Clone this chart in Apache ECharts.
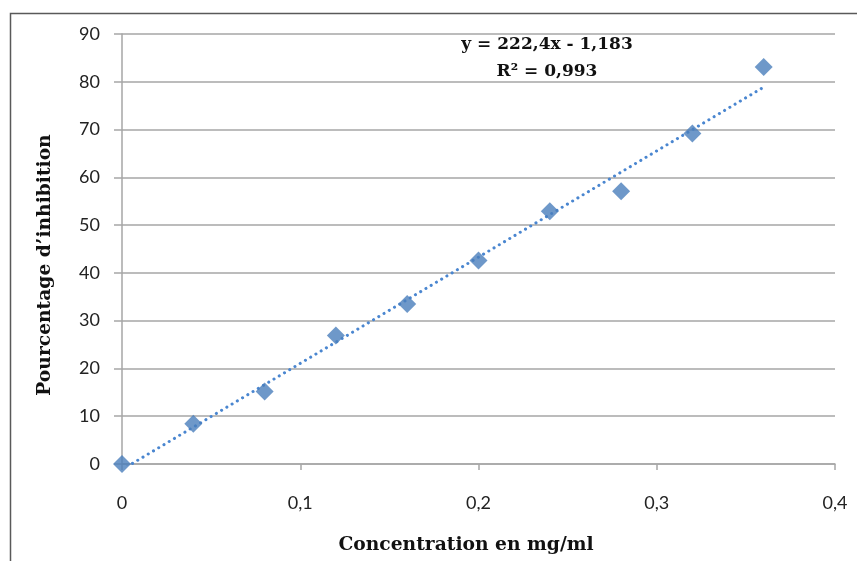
<!DOCTYPE html>
<html>
<head>
<meta charset="utf-8">
<script src="https://cdn.jsdelivr.net/npm/echarts@6/dist/echarts.min.js"></script>
<style>html,body{margin:0;padding:0;background:#fff}#c{width:857px;height:561px}</style>
</head>
<body>
<div id="c"></div>
<script>
var concentrations = [0, 0.04, 0.08, 0.12, 0.16, 0.20, 0.24, 0.28, 0.32, 0.36];
var inhibition = [0, 8.4, 15.2, 26.9, 33.5, 42.6, 52.9, 57.1, 69.2, 83.1];
var trendX = [0, 0.36];
var trendY = [-1.183, 78.881];
var equationText = 'y = 222,4x - 1,183';
var r2Text = 'R² = 0,993';
var xTitle = 'Concentration en mg/ml';
var yTitle = 'Pourcentage d\u2019inhibition';

var chart = echarts.init(document.getElementById('c'), null, {renderer: 'canvas'});
var pts = concentrations.map(function (x, i) { return [x, inhibition[i]]; });
var trend = trendX.map(function (x, i) { return [x, trendY[i]]; });
var blue = '#4a7ebb';
var tickFont = {fontFamily: 'Lato', fontSize: 18, color: '#222'};
var titleFontCss = 'bold 18.7px "DejaVu Serif"';

chart.setOption({
  animation: false,
  backgroundColor: '#fff',
  grid: {left: 122, right: 22, top: 34, bottom: 97},
  xAxis: {
    type: 'value', min: 0, max: 0.4, interval: 0.1,
    axisLine: {show: true, lineStyle: {color: '#a6a6a6', width: 1.5}},
    axisTick: {show: true, inside: false, length: 6, lineStyle: {color: '#a6a6a6', width: 1.5}},
    splitLine: {show: false},
    axisLabel: Object.assign({margin: 30, formatter: function (v) { return String(Math.round(v * 10) / 10).replace('.', ','); }}, tickFont)
  },
  yAxis: {
    type: 'value', min: 0, max: 90, interval: 10,
    axisLine: {show: true, lineStyle: {color: '#a6a6a6', width: 1.5}},
    axisTick: {show: true, length: 8, lineStyle: {color: '#a6a6a6', width: 1.5}},
    splitLine: {show: true, lineStyle: {color: '#a6a6a6', width: 1.5}},
    axisLabel: Object.assign({margin: 22}, tickFont)
  },
  series: [
    {
      type: 'line', data: trend, symbol: 'none', z: 2,
      lineStyle: {color: '#4a86d0', width: 3, type: [0.1, 6], cap: 'round'},
      silent: true
    },
    {
      type: 'scatter', data: pts, symbol: 'diamond', symbolSize: [18, 18], z: 3,
      itemStyle: {color: blue}
    }
  ],
  graphic: [
    {type: 'rect', left: 8, top: 11, shape: {width: 900, height: 600}, silent: true, z: -10,
     style: {fill: 'none', stroke: '#595959', lineWidth: 1.5}},
    {type: 'text', silent: true,
     style: {text: xTitle, x: 466, y: 545, textAlign: 'center', textVerticalAlign: 'middle', font: titleFontCss, fill: '#111'}},
    {type: 'text', silent: true, x: 45, y: 265, rotation: Math.PI / 2,
     style: {text: yTitle, x: 0, y: 0, textAlign: 'center', textVerticalAlign: 'middle', font: titleFontCss, fill: '#111'}},
    {type: 'text', silent: true,
     style: {text: equationText, x: 547, y: 45, textAlign: 'center', textVerticalAlign: 'middle', font: 'bold 17px "DejaVu Serif"', fill: '#111'}},
    {type: 'text', silent: true,
     style: {text: r2Text, x: 547, y: 72, textAlign: 'center', textVerticalAlign: 'middle', font: 'bold 17px "DejaVu Serif"', fill: '#111'}}
  ]
});
</script>
</body>
</html>
